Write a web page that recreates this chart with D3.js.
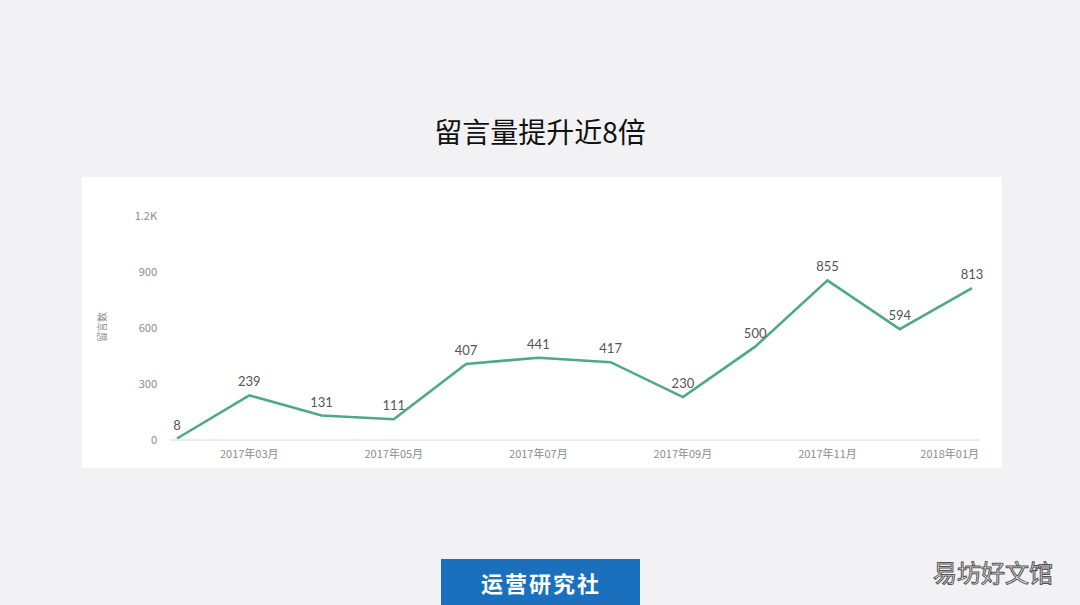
<!DOCTYPE html>
<html><head><meta charset="utf-8">
<script src="https://cdn.jsdelivr.net/npm/d3@7"></script>
<style>
html,body{margin:0;padding:0;background:#f2f2f4;}
svg{display:block;font-family:"Noto Sans CJK SC","Noto Sans",sans-serif;}
</style></head>
<body>
<svg id="c" width="1080" height="605"></svg>
<script>
const months = ["2017-02","2017-03","2017-04","2017-05","2017-06","2017-07","2017-08","2017-09","2017-10","2017-11","2017-12","2018-01"];
const values = [8,239,131,111,407,441,417,230,500,855,594,813];
const yTicks = [0,300,600,900,1200];
const yTickLabels = ["0","300","600","900","1.2K"];
const xTickMonths = ["2017-03","2017-05","2017-07","2017-09","2017-11","2018-01"];
const xTickLabels = ["2017年03月","2017年05月","2017年07月","2017年09月","2017年11月","2018年01月"];
const title = "留言量提升近8倍";
const yTitle = "留言数";

const svg = d3.select("#c");
svg.append("rect").attr("width",1080).attr("height",605).attr("fill","#f2f2f4");
svg.append("rect").attr("x",82).attr("y",177).attr("width",920).attr("height",291).attr("fill","#ffffff");

svg.append("text").attr("x",540).attr("y",143).attr("text-anchor","middle")
  .attr("font-size",28).attr("fill","#111").text(title);

const x = d3.scalePoint().domain(months).range([177,972]);
const y = d3.scaleLinear().domain([0,1200]).range([440,216]);

svg.append("line").attr("x1",170).attr("x2",980).attr("y1",y(0)).attr("y2",y(0))
  .attr("stroke","#dcdcdc").attr("stroke-width",1);

svg.append("g").selectAll("text").data(yTicks).join("text")
  .attr("x",157).attr("y",d=>y(d)+4).attr("text-anchor","end")
  .attr("font-size",11).attr("fill","#8c8c8c")
  .text((d,i)=>yTickLabels[i]);

svg.append("text").attr("transform","translate(106,327) rotate(-90)")
  .attr("text-anchor","middle").attr("font-size",10).attr("fill","#8c8c8c").text(yTitle);

svg.append("g").selectAll("text").data(xTickMonths).join("text")
  .attr("x",(d,i)=> i===xTickMonths.length-1 ? 979 : x(d))
  .attr("y",458)
  .attr("text-anchor",(d,i)=> i===xTickMonths.length-1 ? "end" : "middle")
  .attr("font-size",11).attr("fill","#8c8c8c")
  .text((d,i)=>xTickLabels[i]);

const line = d3.line().x((d,i)=>x(months[i])).y(d=>y(d));
svg.append("path").datum(values).attr("d",line).attr("fill","none")
  .attr("stroke","#4ea985").attr("stroke-width",2.6).attr("stroke-linejoin","miter");

svg.append("g").selectAll("text").data(values).join("text")
  .attr("x",(d,i)=>x(months[i])).attr("y",d=>y(d)-9).attr("text-anchor","middle")
  .attr("font-size",13).attr("fill","#555").attr("font-family","Lato,'Noto Sans',sans-serif")
  .text(d=>d);

svg.append("rect").attr("x",441).attr("y",559).attr("width",199).attr("height",46).attr("fill","#1a70bc");
svg.append("text").attr("x",541).attr("y",592).attr("text-anchor","middle")
  .attr("font-size",22).attr("font-weight","bold").attr("fill","#ffffff")
  .attr("letter-spacing",2).text("运营研究社");

svg.append("text").attr("x",993).attr("y",582).attr("text-anchor","middle")
  .attr("font-size",24).attr("fill","#f4f4f4").attr("stroke","#555").attr("stroke-width",1)
  .text("易坊好文馆");
</script>
</body></html>
